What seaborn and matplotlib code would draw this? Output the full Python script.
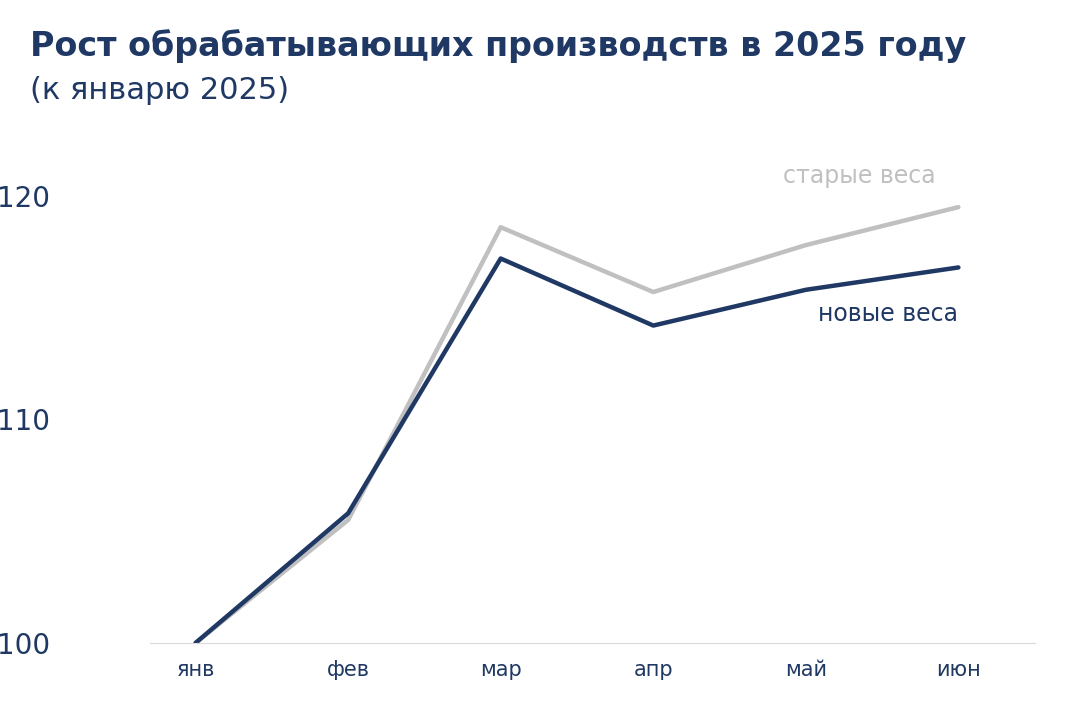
import matplotlib
matplotlib.use("Agg")
import matplotlib.pyplot as plt
import seaborn as sns
import pandas as pd

months = ["янв", "фев", "мар", "апр", "май", "июн"]
new_weights = [100, 105.8, 117.2, 114.2, 115.8, 116.8]
old_weights = [100, 105.5, 118.6, 115.7, 117.8, 119.5]

navy = "#1f3864"
gray = "#c0c0c0"

sns.set_style("white")
plt.rcParams["font.family"] = ["DejaVu Sans"]

df = pd.DataFrame({"month": list(range(len(months))) * 2,
                   "value": old_weights + new_weights,
                   "series": ["старые веса"] * 6 + ["новые веса"] * 6})

fig = plt.figure(figsize=(10.7, 7.12), dpi=100)
ax = fig.add_axes([0.14, 0.097, 0.827, 0.722])
sns.lineplot(data=df, x="month", y="value", hue="series",
             palette={"старые веса": gray, "новые веса": navy},
             linewidth=3.2, legend=False, ax=ax)

ax.set_xlim(-0.3, 5.5)
ax.set_ylim(100, 123)
ax.set_xticks(range(len(months)))
ax.set_xticklabels(months, fontsize=15, color=navy)
ax.set_yticks([100, 110, 120])
ax.tick_params(axis="y", labelsize=20, labelcolor=navy, length=0, pad=110)
ax.tick_params(axis="x", length=0, pad=12)
for lbl in ax.get_yticklabels():
    lbl.set_horizontalalignment("left")
ax.set_xlabel("")
ax.set_ylabel("")
for s in ["top", "right", "left"]:
    ax.spines[s].set_visible(False)
ax.spines["bottom"].set_color("#d9d9d9")

ax.text(4.85, 120.9, "старые веса", color=gray, fontsize=17, ha="right", va="center")
ax.text(5.0, 114.7, "новые веса", color=navy, fontsize=17, ha="right", va="center")

fig.text(0.028, 0.935, "Рост обрабатывающих производств в 2025 году",
         fontsize=24, fontweight="bold", color=navy, va="center")
fig.text(0.028, 0.873, "(к январю 2025)", fontsize=22, color=navy, va="center")

fig.savefig("out.png", dpi=100)
